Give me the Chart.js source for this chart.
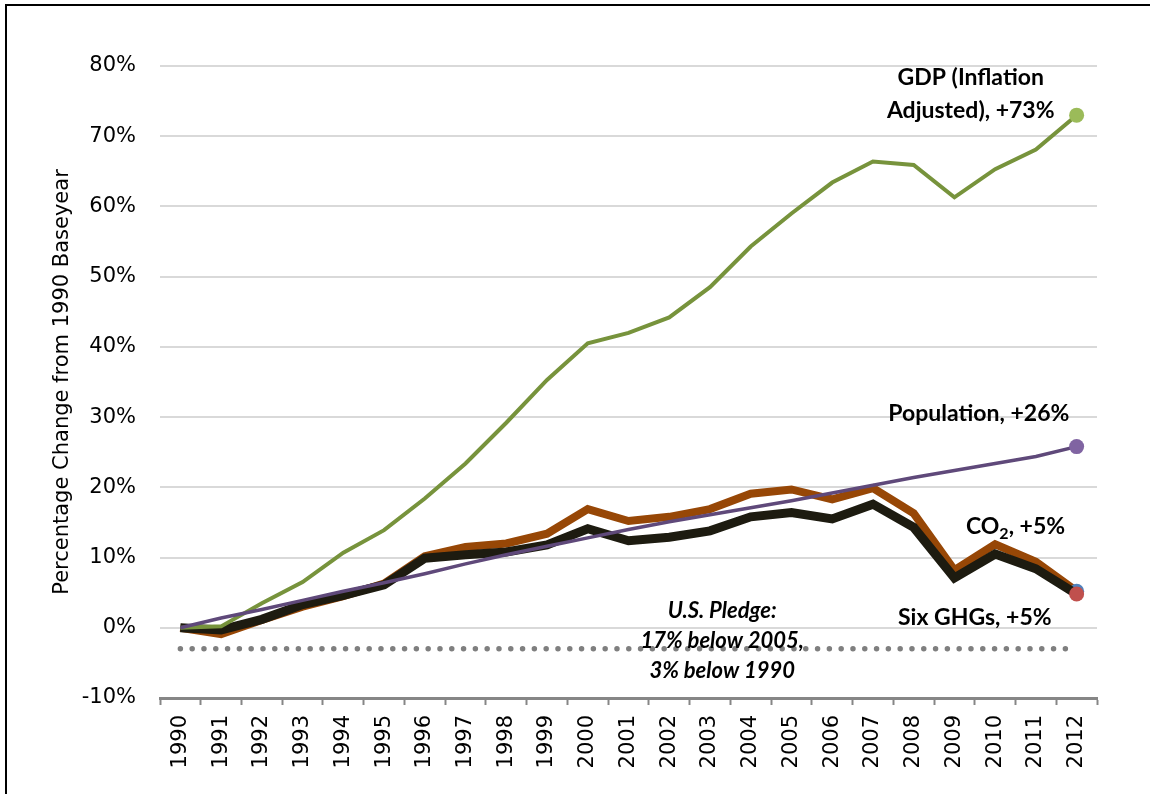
<!DOCTYPE html>
<html>
<head>
<meta charset="utf-8">
<script src="https://cdn.jsdelivr.net/npm/chart.js@4"></script>
<style>
  html, body { margin: 0; padding: 0; background: #fff; overflow: hidden; }
  #wrap { position: relative; width: 1150px; height: 794px; }
  #frame { position: absolute; left: 5px; top: 4px; width: 1160px; height: 820px; border: 2px solid #000; pointer-events: none; }
  canvas { position: absolute; left: 0; top: 0; }
</style>
</head>
<body>
<div id="wrap">
  <canvas id="chart" width="1150" height="794"></canvas>
  <div id="frame"></div>
</div>
<script>
// Percent change from 1990
const years = ["1990","1991","1992","1993","1994","1995","1996","1997","1998","1999","2000",
               "2001","2002","2003","2004","2005","2006","2007","2008","2009","2010","2011","2012"];

const gdp = [0, 0.2, 3.5, 6.5, 10.7, 13.9, 18.4, 23.4, 29.2, 35.3, 40.5,
             42.0, 44.2, 48.5, 54.3, 59.0, 63.4, 66.4, 65.9, 61.3, 65.3, 68.1, 73.0];
const population = [0, 1.4, 2.6, 3.9, 5.2, 6.4, 7.7, 9.1, 10.4, 11.6, 12.8,
                    14.0, 15.1, 16.1, 17.1, 18.1, 19.2, 20.3, 21.4, 22.4, 23.4, 24.4, 25.8];
const co2 = [0, -0.9, 1.1, 3.0, 4.5, 6.3, 10.2, 11.5, 12.0, 13.4, 16.9,
             15.2, 15.8, 16.9, 19.1, 19.7, 18.3, 19.9, 16.3, 8.2, 11.9, 9.4, 5.2];
const sixGhgs = [0, -0.3, 1.2, 3.3, 4.6, 6.1, 9.9, 10.4, 10.8, 11.8, 14.1,
                 12.4, 12.9, 13.8, 15.8, 16.4, 15.5, 17.6, 14.3, 7.1, 10.5, 8.4, 4.8];
const pledgeLevel = -3;

const yTicks = [-10, 0, 10, 20, 30, 40, 50, 60, 70, 80];

// only the last year gets a marker
function endMarker(r) {
    return years.map((y, i) => i === years.length - 1 ? r : 0);
}

// text labels: anchored at a category index and a y value
const notes = [
    { lines: ["GDP (Inflation", "Adjusted), +73%"], at: 19.4, y: 78.3, step: 4.7, italic: false, size: 23 },
    { lines: ["Population, +26%"], at: 19.6, y: 30.5, italic: false, size: 23 },
    { lines: ["CO2, +5%"], at: 20.5, y: 14.4, italic: false, sub: true, size: 23 },
    { lines: ["Six GHGs, +5%"], at: 19.5, y: 1.5, italic: false, size: 23 },
    { lines: ["U.S. Pledge:", "17% below 2005,", "3% below 1990"], at: 13.3, y: 2.4, step: 4.3, italic: true, size: 22 }
];

function noteFont(n, size) {
    return (n.italic ? "italic " : "") + "bold " + size + "px Lato, 'Liberation Sans', sans-serif";
}

const notesPlugin = {
    id: "notes",
    afterDatasetsDraw(chart) {
        const ctx = chart.ctx;
        const xs = chart.scales.x;
        const ys = chart.scales.y;
        ctx.save();
        ctx.fillStyle = "#000";
        ctx.textBaseline = "middle";
        notes.forEach(n => {
            const cx = xs.getPixelForValue(n.at);
            n.lines.forEach((line, k) => {
                const cy = ys.getPixelForValue(n.y - k * (n.step || 0));
                ctx.font = noteFont(n, n.size);
                if (n.sub) {
                    // CO with a subscript 2
                    const a = "CO", b = "2", c = ", +5%";
                    const wa = ctx.measureText(a).width, wc = ctx.measureText(c).width;
                    ctx.font = noteFont(n, 16);
                    const wb = ctx.measureText(b).width;
                    const x0 = cx - (wa + wb + wc) / 2;
                    ctx.textAlign = "left";
                    ctx.font = noteFont(n, n.size);
                    ctx.fillText(a, x0, cy);
                    ctx.font = noteFont(n, 16);
                    ctx.fillText(b, x0 + wa, cy + 7);
                    ctx.font = noteFont(n, n.size);
                    ctx.fillText(c, x0 + wa + wb, cy);
                } else {
                    ctx.textAlign = "center";
                    ctx.fillText(line, cx, cy);
                }
            });
        });
        ctx.restore();
    }
};

new Chart(document.getElementById("chart"), {
    type: "line",
    data: {
        labels: years,
        datasets: [
            {
                label: "Population",
                data: population,
                borderColor: "#5f497a",
                borderWidth: 3.5,
                pointRadius: endMarker(7.5),
                pointBackgroundColor: "#8064a2",
                pointBorderWidth: 0,
                tension: 0
            },
            {
                label: "GDP",
                data: gdp,
                borderColor: "#77933c",
                borderWidth: 4,
                pointRadius: endMarker(7.5),
                pointBackgroundColor: "#9bbb59",
                pointBorderWidth: 0,
                tension: 0
            },
            {
                label: "Six GHGs",
                data: sixGhgs,
                borderColor: "#1d1b10",
                borderWidth: 9,
                pointRadius: endMarker(7.5),
                pointBackgroundColor: "#c0504d",
                pointBorderWidth: 0,
                tension: 0
            },
            {
                label: "CO2",
                data: co2,
                borderColor: "#974706",
                borderWidth: 8,
                pointRadius: endMarker(7.5),
                pointBackgroundColor: "#4f81bd",
                pointBorderWidth: 0,
                tension: 0
            },
            {
                label: "Pledge",
                data: [{ x: years[0], y: pledgeLevel }, { x: years[years.length - 1], y: pledgeLevel }],
                borderColor: "#7f7f7f",
                borderWidth: 5.5,
                borderDash: [0, 11.8],
                borderCapStyle: "round",
                pointRadius: 0
            }
        ]
    },
    options: {
        responsive: false,
        animation: false,
        events: [],
        layout: { padding: { left: 0, right: 53, top: 66, bottom: 0 } },
        plugins: { legend: { display: false }, tooltip: { enabled: false } },
        scales: {
            x: {
                type: "category",
                offset: true,
                afterFit(scale) { scale.height = 96; },
                grid: {
                    drawOnChartArea: false,
                    drawTicks: true,
                    tickLength: 7,
                    tickWidth: 2,
                    color: "#868686",
                    offset: true
                },
                border: { display: true, color: "#868686", width: 3 },
                ticks: {
                    autoSkip: false,
                    minRotation: 90,
                    maxRotation: 90,
                    padding: 10,
                    color: "#000",
                    font: { family: "'DejaVu Sans'", size: 21 }
                }
            },
            y: {
                min: -10,
                max: 80,
                afterFit(scale) { scale.width = 160; },
                afterBuildTicks(scale) { scale.ticks = yTicks.map(v => ({ value: v })); },
                grid: { color: "#d9d9d9", lineWidth: 2, drawTicks: false },
                border: { display: false },
                ticks: {
                    padding: 24,
                    color: "#000",
                    font: { family: "'DejaVu Sans'", size: 21 },
                    callback: v => v + "%"
                },
                title: {
                    display: true,
                    text: "Percentage Change from 1990 Baseyear",
                    color: "#000",
                    font: { family: "'DejaVu Sans'", size: 21 },
                    padding: { top: 50, bottom: 0 }
                }
            }
        }
    },
    plugins: [notesPlugin]
});
</script>
</body>
</html>
